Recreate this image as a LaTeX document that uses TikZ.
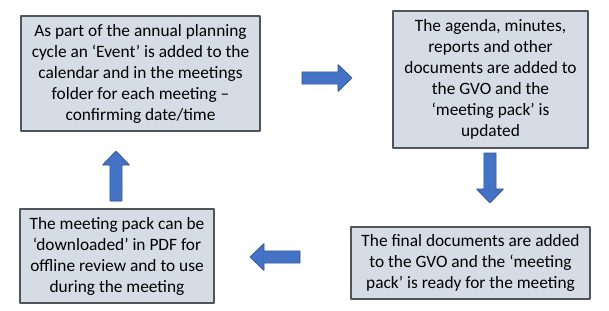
\documentclass[tikz,border=0pt]{standalone}
\usepackage{fontspec}
\setmainfont{Carlito}
\definecolor{boxfill}{HTML}{D6DCE5}
\definecolor{boxline}{HTML}{50555C}
\definecolor{arrfill}{HTML}{4472C4}
\definecolor{arrline}{HTML}{2F528F}
\begin{document}
\begin{tikzpicture}[x=.75pt,y=-.75pt,line join=round,
	stepbox/.style={draw=boxline,line width=.9pt,fill=boxfill,align=center,inner sep=2pt,
		font=\fontsize{13}{15.75}\selectfont},
	barrow/.pic={\draw[fill=arrfill,draw=arrline,line width=.5pt]
		(0pt,-4.6pt)--(27pt,-4.6pt)--(27pt,-10.1pt)--(37.5pt,0pt)--(27pt,10.1pt)--(27pt,4.6pt)--(0pt,4.6pt)--cycle;}]
	\useasboundingbox (0,0) rectangle (609,310);
	\node[stepbox,minimum width=179.25pt,minimum height=86.25pt](plan) at (140.5,73.5)
		{As part of the annual planning\\cycle an ‘Event’ is added to the\\calendar and in the meetings\\folder for each meeting –\\confirming date/time};
	\node[stepbox,minimum width=146.25pt,minimum height=102.75pt](docs) at (490.5,79.5)
		{The agenda, minutes,\\reports and other\\documents are added to\\the GVO and the\\‘meeting pack’ is\\updated};
	\node[stepbox,minimum width=179.25pt,minimum height=54pt](final) at (470.5,263)
		{The final documents are added\\to the GVO and the ‘meeting\\pack’ is ready for the meeting};
	\node[stepbox,minimum width=145.5pt,minimum height=70.5pt](pdf) at (117,256)
		{The meeting pack can be\\‘downloaded’ in PDF for\\offline review and to use\\during the meeting};
	\foreach \x/\y/\a in {302/78/0,490/153/-90,300/257/180,116/201/90}
		\pic[rotate=\a] at (\x,\y) {barrow};
\end{tikzpicture}
\end{document}
